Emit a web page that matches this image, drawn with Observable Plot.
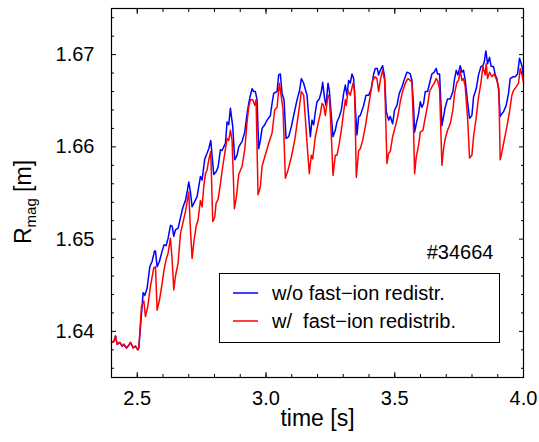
<!DOCTYPE html>
<html><head><meta charset="utf-8">
<script src="https://cdn.jsdelivr.net/npm/d3@7"></script>
<script src="https://cdn.jsdelivr.net/npm/@observablehq/plot@0.6"></script>
<style>
body{margin:0;background:#fff;}
#chart svg{display:block;}
</style>
</head><body><div id="chart"></div>
<script>
const xTicks = [2.5, 3.0, 3.5, 4.0];
const xMinor = [2.4, 2.5, 2.6, 2.7, 2.8, 2.9, 3.0, 3.1, 3.2, 3.3, 3.4, 3.5, 3.6, 3.7, 3.8, 3.9, 4.0];
const xMajor = [2.5, 3.0, 3.5, 4.0];
const yTicks = [1.64, 1.65, 1.66, 1.67];
const yMinor = [1.636, 1.638, 1.642, 1.644, 1.646, 1.648, 1.652, 1.654, 1.656, 1.658, 1.662, 1.664, 1.666, 1.668, 1.672, 1.674];
const seriesNames = ["w/o fast\u2212ion redistr.", "w/  fast\u2212ion redistrib."];
const seriesColors = ["#0000ff", "#ff0000"];
const shotLabel = "#34664";

// common part before 2.5 s (both runs identical)
const pre = [[2.400,1.6388],[2.4091,1.6389],[2.4155,1.6395],[2.4220,1.6386],[2.4323,1.6388],[2.4414,1.6384],[2.4479,1.6386],[2.4582,1.6382],[2.4673,1.6385],[2.4737,1.6388],[2.4841,1.6382],[2.4931,1.6384],[2.5022,1.6380],[2.5061,1.6382]];

// without fast-ion redistribution (blue)
const blueRaw = [[2.5229,1.6442],[2.5294,1.6439],[2.5384,1.6447],[2.5488,1.6470],[2.5578,1.6476],[2.5669,1.6487],[2.5708,1.6487],[2.5772,1.6470],[2.5863,1.6476],[2.5966,1.6487],[2.6044,1.6494],[2.6121,1.6493],[2.6199,1.6501],[2.6290,1.6515],[2.6354,1.6514],[2.6419,1.6503],[2.6484,1.6510],[2.6587,1.6512],[2.6678,1.6523],[2.6768,1.6534],[2.6872,1.6542],[2.6949,1.6553],[2.7001,1.6562],[2.7066,1.6551],[2.7130,1.6535],[2.7234,1.6541],[2.7324,1.6546],[2.7454,1.6568],[2.7518,1.6564],[2.7622,1.6587],[2.7712,1.6593],[2.7777,1.6598],
[2.7855,1.6607],[2.7971,1.6570],[2.8062,1.6573],[2.8139,1.6578],[2.8191,1.6589],[2.8230,1.6597],[2.8294,1.6596],[2.8359,1.6600],[2.8424,1.6604],[2.8488,1.6627],[2.8553,1.6624],[2.8618,1.6642],[2.8657,1.6633],[2.8708,1.6622],[2.8786,1.6586],[2.8877,1.6591],[2.8941,1.6600],[2.9071,1.6606],[2.9174,1.6616],[2.9265,1.6636],[2.9329,1.6647],[2.9394,1.6656],[2.9459,1.6663],[2.9523,1.6660],[2.9588,1.6660],[2.9653,1.6651],[2.9717,1.6598],[2.9782,1.6607],[2.9847,1.6620],[2.9950,1.6624],[3.0041,1.6629],[3.0170,1.6634],[3.0235,1.6647],[3.0299,1.6658],[3.0429,1.6660],[3.0493,1.6678],[3.0558,1.6679],[3.0623,1.6658],[3.0700,1.6651],[3.0778,1.6609],[3.0881,1.6611],[3.0985,1.6622],[3.1075,1.6634],[3.1205,1.6651],[3.1295,1.6660],[3.1373,1.6674],[3.1463,1.6669],
[3.1593,1.6656],[3.1657,1.6633],[3.1722,1.6611],[3.1787,1.6629],[3.1852,1.6624],[3.1916,1.6638],[3.1981,1.6649],[3.2071,1.6652],[3.2149,1.6660],[3.2201,1.6670],[3.2278,1.6652],[3.2330,1.6645],[3.2408,1.6669],[3.2459,1.6661],[3.2511,1.6643],[3.2602,1.6611],[3.2692,1.6618],[3.2757,1.6627],[3.2848,1.6633],[3.2925,1.6640],[3.3016,1.6658],[3.3080,1.6667],[3.3145,1.6656],[3.3210,1.6672],[3.3274,1.6669],[3.3339,1.6679],[3.3404,1.6674],[3.3468,1.6643],[3.3533,1.6613],[3.3598,1.6633],[3.3662,1.6634],[3.3792,1.6645],[3.3882,1.6656],[3.3986,1.6656],[3.4089,1.6663],[3.4180,1.6679],[3.4244,1.6685],[3.4322,1.6685],[3.4374,1.6678],[3.4438,1.6683],[3.4529,1.6688],[3.4607,1.6676],[3.4671,1.6638],[3.4762,1.6629],[3.4827,1.6633],[3.4917,1.6625],[3.4995,1.6640],[3.5085,1.6645],[3.5176,1.6658],[3.5279,1.6665],[3.5383,1.6674],[3.5473,1.6681],[3.5564,1.6680],
[3.5603,1.6679],[3.5667,1.6672],[3.5732,1.6643],[3.5771,1.6616],[3.5835,1.6625],[3.5926,1.6636],[3.5991,1.6649],[3.6055,1.6643],[3.6120,1.6647],[3.6185,1.6660],[3.6275,1.6660],[3.6353,1.6669],[3.6443,1.6679],[3.6534,1.6681],[3.6611,1.6685],[3.6663,1.6679],[3.6741,1.6679],[3.6831,1.6623],[3.6896,1.6633],[3.6961,1.6643],[3.7051,1.6652],[3.7155,1.6652],[3.7258,1.6660],[3.7323,1.6674],[3.7388,1.6683],[3.7452,1.6678],[3.7543,1.6688],[3.7608,1.6681],[3.7672,1.6683],[3.7737,1.6672],[3.7827,1.6649],[3.7905,1.6631],[3.7996,1.6634],[3.8060,1.6654],[3.8164,1.6663],[3.8254,1.6678],[3.8345,1.6687],[3.8423,1.6688],[3.8474,1.6692],[3.8539,1.6704],[3.8604,1.6690],[3.8681,1.6697],[3.8746,1.6687],[3.8836,1.6687],[3.8901,1.6678],[3.8966,1.6674],[3.9030,1.6663],[3.9095,1.6633],[3.9160,1.6636],[3.9224,1.6638],[3.9328,1.6645],[3.9418,1.6658],[3.9483,1.6674],[3.9587,1.6676],[3.9677,1.6676],[3.9768,1.6679],[3.9845,1.6696],[3.9936,1.6688],[4.0000,1.6678]];

// with fast-ion redistribution (red)
const redRaw = [[2.5164,1.6427],[2.5255,1.6433],[2.5319,1.6416],[2.5410,1.6427],[2.5513,1.6449],[2.5643,1.6469],[2.5708,1.6470],[2.5772,1.6423],[2.5863,1.6434],[2.5966,1.6452],[2.6031,1.6465],[2.6121,1.6478],[2.6199,1.6485],[2.6290,1.6501],[2.6354,1.6478],[2.6419,1.6445],[2.6484,1.6460],[2.6587,1.6474],[2.6678,1.6506],[2.6768,1.6517],[2.6872,1.6530],[2.7001,1.6551],[2.7066,1.6510],[2.7130,1.6479],[2.7195,1.6496],[2.7286,1.6514],[2.7363,1.6521],[2.7454,1.6542],[2.7518,1.6535],[2.7583,1.6557],
[2.7648,1.6571],[2.7712,1.6575],[2.7777,1.6586],[2.7855,1.6595],[2.7932,1.6519],[2.8010,1.6524],[2.8062,1.6539],[2.8139,1.6543],[2.8230,1.6560],[2.8320,1.6579],[2.8398,1.6593],[2.8488,1.6609],[2.8553,1.6607],[2.8618,1.6618],[2.8683,1.6607],[2.8773,1.6533],[2.8851,1.6546],[2.8941,1.6570],[2.9071,1.6579],[2.9174,1.6597],[2.9265,1.6627],[2.9329,1.6643],[2.9394,1.6651],[2.9484,1.6651],[2.9562,1.6645],[2.9614,1.6651],[2.9691,1.6548],[2.9782,1.6557],[2.9847,1.6579],[2.9950,1.6589],[3.0105,1.6604],[3.0235,1.6615],[3.0338,1.6640],[3.0429,1.6643],[3.0519,1.6669],[3.0597,1.6654],[3.0662,1.6640],[3.0752,1.6566],[3.0856,1.6575],[3.0985,1.6589],[3.1114,1.6607],[3.1205,1.6625],[3.1295,1.6643],[3.1373,1.6660],[3.1463,1.6656],
[3.1528,1.6631],[3.1593,1.6604],[3.1683,1.6571],[3.1761,1.6591],[3.1813,1.6587],[3.1916,1.6611],[3.2020,1.6625],[3.2110,1.6636],[3.2175,1.6647],[3.2240,1.6645],[3.2304,1.6634],[3.2408,1.6656],[3.2459,1.6654],[3.2511,1.6629],[3.2602,1.6569],[3.2692,1.6591],[3.2757,1.6591],[3.2848,1.6604],[3.2925,1.6618],[3.3016,1.6638],[3.3080,1.6651],[3.3119,1.6645],[3.3184,1.6661],[3.3274,1.6656],[3.3378,1.6669],[3.3443,1.6661],[3.3507,1.6567],[3.3598,1.6596],[3.3662,1.6598],[3.3753,1.6607],[3.3857,1.6622],[3.3960,1.6640],[3.4050,1.6656],[3.4141,1.6672],[3.4244,1.6676],[3.4309,1.6674],[3.4374,1.6660],[3.4451,1.6674],[3.4529,1.6683],[3.4607,1.6672],[3.4697,1.6582],[3.4762,1.6593],[3.4827,1.6595],[3.4917,1.6611],[3.5021,1.6622],[3.5124,1.6634],[3.5215,1.6649],[3.5305,1.6660],[3.5409,1.6669],[3.5512,1.6674],
[3.5603,1.6672],[3.5667,1.6670],[3.5732,1.6618],[3.5771,1.6571],[3.5835,1.6589],[3.5926,1.6602],[3.5991,1.6616],[3.6094,1.6618],[3.6185,1.6632],[3.6275,1.6645],[3.6353,1.6660],[3.6443,1.6665],[3.6534,1.6669],[3.6611,1.6674],[3.6663,1.6672],[3.6741,1.6663],[3.6831,1.6580],[3.6896,1.6598],[3.6961,1.6609],[3.7051,1.6618],[3.7155,1.6625],[3.7258,1.6640],[3.7323,1.6658],[3.7414,1.6670],[3.7478,1.6672],[3.7543,1.6683],[3.7608,1.6672],[3.7672,1.6674],[3.7737,1.6665],[3.7827,1.6632],[3.7905,1.6588],[3.7996,1.6591],[3.8060,1.6611],[3.8164,1.6632],[3.8254,1.6654],[3.8345,1.6669],[3.8423,1.6687],[3.8513,1.6678],[3.8552,1.6690],[3.8604,1.6674],[3.8681,1.6681],[3.8772,1.6676],[3.8862,1.6679],[3.8966,1.6672],[3.9043,1.6663],[3.9095,1.6586],[3.9173,1.6596],[3.9250,1.6607],[3.9354,1.6622],[3.9457,1.6638],[3.9548,1.6656],[3.9612,1.6661],[3.9716,1.6665],[3.9806,1.6669],[3.9871,1.6685],[3.9936,1.6679],[4.0000,1.6670]];

const blue = pre.concat(blueRaw);
const red = pre.concat(redRaw);

const FONT = "'Liberation Sans', Arial, Helvetica, sans-serif";
const W = 539, H = 442, mL = 111, mR = 16, mT = 8, mB = 65;

const chart = Plot.plot({
  width: W, height: H,
  marginLeft: mL, marginRight: mR, marginTop: mT, marginBottom: mB,
  style: {fontFamily: FONT, fontSize: "20px", background: "white", color: "black", overflow: "visible"},
  x: {domain: [2.4, 4.0], axis: null},
  y: {domain: [1.635, 1.675], axis: null},
  marks: [
    Plot.line(blue, {x: d => d[0], y: d => d[1], stroke: seriesColors[0], strokeWidth: 1.5}),
    Plot.line(red, {x: d => d[0], y: d => d[1], stroke: seriesColors[1], strokeWidth: 1.5}),
    // inward minor / major ticks on all four sides
    Plot.axisX({ticks: xMinor, anchor: "bottom", tickSize: 3, dy: -3, fill: "none", label: null}),
    Plot.axisX({ticks: xMajor, anchor: "bottom", tickSize: 5, dy: -5, fill: "none", label: null}),
    Plot.axisX({ticks: xMinor, anchor: "top", tickSize: 3, dy: 3, fill: "none", label: null}),
    Plot.axisX({ticks: xMajor, anchor: "top", tickSize: 5, dy: 5, fill: "none", label: null}),
    Plot.axisY({ticks: yMinor, anchor: "left", tickSize: 3, dx: 3, fill: "none", label: null}),
    Plot.axisY({ticks: yTicks, anchor: "left", tickSize: 5, dx: 5, fill: "none", label: null}),
    Plot.axisY({ticks: yMinor, anchor: "right", tickSize: 3, dx: -3, fill: "none", label: null}),
    Plot.axisY({ticks: yTicks, anchor: "right", tickSize: 5, dx: -5, fill: "none", label: null}),
    // tick labels
    Plot.axisX({ticks: xTicks, anchor: "bottom", tickSize: 0, tickPadding: 13, tickFormat: d => d.toFixed(1), fontSize: 20, label: null}),
    Plot.axisY({ticks: yTicks, anchor: "left", tickSize: 0, tickPadding: 17, tickFormat: d => d.toFixed(2), fontSize: 20, label: null}),
    Plot.frame({stroke: "black", strokeWidth: 1.2}),
    Plot.text(["time [s]"], {frameAnchor: "bottom", dy: 48, fontSize: 23}),
    Plot.text([shotLabel], {frameAnchor: "top-right", dx: -30, dy: 236, textAnchor: "end", fontSize: 20})
  ]
});

document.getElementById("chart").appendChild(chart);

// y-axis label with subscript, and the legend box
const svg = d3.select(chart);
const yl = svg.append("text")
  .attr("transform", "translate(31,202) rotate(-90)")
  .attr("text-anchor", "middle")
  .attr("font-family", FONT)
  .attr("font-size", 23)
  .attr("fill", "black");
yl.append("tspan").text("R");
yl.append("tspan").attr("font-size", 15).attr("dy", 5).text("mag");
yl.append("tspan").attr("dy", -5).text(" [m]");

const lg = svg.append("g").attr("font-family", FONT).attr("font-size", 20).attr("text-anchor", "start");
lg.append("rect").attr("x", 219.5).attr("y", 273.5).attr("width", 280).attr("height", 69)
  .attr("fill", "white").attr("stroke", "black").attr("stroke-width", 1);
seriesNames.forEach((name, i) => {
  const yy = 293 + i * 28;
  lg.append("line").attr("x1", 233).attr("x2", 258).attr("y1", yy).attr("y2", yy)
    .attr("stroke", seriesColors[i]).attr("stroke-width", 1.5);
  lg.append("text").attr("x", 272).attr("y", yy + 7).attr("fill", "black")
    .attr("text-anchor", "start")
    .style("white-space", "pre").text(name);
});
</script>
</body></html>
